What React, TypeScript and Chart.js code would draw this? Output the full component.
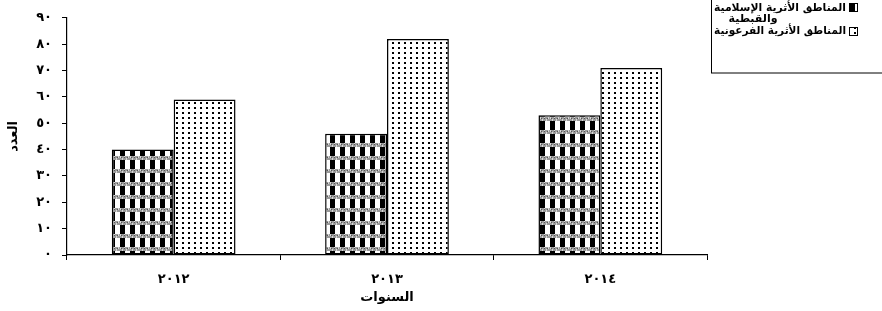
import React, { useEffect, useRef } from "react";
import { Chart, registerables } from "chart.js";

Chart.register(...registerables);

const categories = ["٢٠١٢", "٢٠١٣", "٢٠١٤"];
const islamicCoptic = [40, 46, 53];
const pharaonic = [59, 82, 71];
const yTickLabels = ["٠", "١٠", "٢٠", "٣٠", "٤٠", "٥٠", "٦٠", "٧٠", "٨٠", "٩٠"];
const seriesNames = ["المناطق الأثرية الإسلامية والقبطية", "المناطق الأثرية الفرعونية"];
const legendLines = ["المناطق الأثرية الإسلامية", "والقبطية", "المناطق الأثرية الفرعونية"];
const xTitle = "السنوات";
const yTitle = "العدد";

const FONT = "'DejaVu Sans', 'Liberation Sans', sans-serif";

function makeCheckerPattern(ctx: CanvasRenderingContext2D) {
  const c = document.createElement("canvas");
  c.width = 10;
  c.height = 13;
  const g = c.getContext("2d")!;
  g.fillStyle = "#fff";
  g.fillRect(0, 0, 10, 13);
  g.fillStyle = "#000";
  g.fillRect(0, 0, 4, 13);
  g.fillRect(4, 4, 1, 9);
  // gray wavy band
  g.fillStyle = "#9a9a9a";
  g.fillRect(0, 0, 10, 4);
  g.fillStyle = "#d8d8d8";
  for (let x = 0; x < 10; x += 2) {
    g.fillRect(x, (x / 2) % 2 === 0 ? 0 : 2, 1, 2);
  }
  g.fillStyle = "#555";
  for (let x = 1; x < 10; x += 3) {
    g.fillRect(x, 1, 1, 1);
  }
  return ctx.createPattern(c, "repeat")!;
}

function makeDotPattern(ctx: CanvasRenderingContext2D) {
  const c = document.createElement("canvas");
  c.width = 6;
  c.height = 10;
  const g = c.getContext("2d")!;
  g.fillStyle = "#fff";
  g.fillRect(0, 0, 6, 10);
  g.fillStyle = "#000";
  g.fillRect(2, 2, 2, 2);
  g.fillRect(2, 7, 2, 2);
  return ctx.createPattern(c, "repeat")!;
}

export default function App() {
  const ref = useRef<HTMLCanvasElement>(null);

  useEffect(() => {
    document.body.style.margin = "0";
    const canvas = ref.current!;
    const ctx = canvas.getContext("2d")!;
    const checker = makeCheckerPattern(ctx);
    const dots = makeDotPattern(ctx);

    const legendPlugin = {
      id: "boxLegend",
      afterDraw(chart: any) {
        const c = chart.ctx as CanvasRenderingContext2D;
        c.save();
        c.strokeStyle = "#000";
        c.lineWidth = 1;
        c.strokeRect(711.5, -2, 200, 75);
        c.font = `bold 11px ${FONT}`;
        c.fillStyle = "#000";
        c.textBaseline = "middle";
        c.direction = "rtl";
        c.textAlign = "right";
        c.fillText(legendLines[0], 846, 8, 132);
        c.textAlign = "center";
        c.fillText(legendLines[1], 753, 19);
        c.textAlign = "right";
        c.fillText(legendLines[2], 846, 31, 132);
        // symbols
        c.fillStyle = checker;
        c.fillRect(849, 3, 8, 8);
        c.strokeRect(849.5, 3.5, 8, 8);
        c.fillStyle = dots;
        c.fillRect(849, 27, 8, 8);
        c.strokeRect(849.5, 27.5, 8, 8);
        c.restore();
      },
    };

    const chart = new Chart(canvas, {
      type: "bar",
      data: {
        labels: categories,
        datasets: [
          {
            label: seriesNames[0],
            data: islamicCoptic,
            backgroundColor: checker,
            borderColor: "#000",
            borderWidth: 1.5,
            borderSkipped: false,
            categoryPercentage: 0.58,
            barPercentage: 1,
          },
          {
            label: seriesNames[1],
            data: pharaonic,
            backgroundColor: dots,
            borderColor: "#000",
            borderWidth: 1.5,
            borderSkipped: false,
            categoryPercentage: 0.58,
            barPercentage: 1,
          },
        ],
      },
      options: {
        responsive: false,
        animation: false,
        layout: { padding: { left: 0, right: 175, top: 16, bottom: 0 } },
        plugins: { legend: { display: false }, tooltip: { enabled: false } },
        scales: {
          x: {
            offset: true,
            grid: {
              offset: true,
              drawOnChartArea: false,
              drawTicks: true,
              tickLength: 5,
              color: "#000",
            },
            border: { color: "#000", width: 1.2 },
            ticks: {
              color: "#000",
              padding: 12,
              font: { family: FONT, size: 13, weight: "bold" },
            },
            title: {
              display: true,
              text: xTitle,
              color: "#000",
              padding: { top: 0, bottom: 6 },
              font: { family: FONT, size: 13, weight: "bold" },
            },
            afterFit(scale: any) {
              scale.height = 56;
            },
          },
          y: {
            min: 0,
            max: 90,
            grid: {
              drawOnChartArea: false,
              drawTicks: true,
              tickLength: 5,
              color: "#000",
            },
            border: { color: "#000", width: 1.2 },
            ticks: {
              stepSize: 10,
              color: "#000",
              padding: 10,
              font: { family: FONT, size: 13, weight: "bold" },
              callback: (_v: any, i: number) => yTickLabels[i],
            },
            title: {
              display: true,
              text: yTitle,
              color: "#000",
              padding: { top: 6, bottom: 0 },
              font: { family: FONT, size: 13, weight: "bold" },
            },
            afterFit(scale: any) {
              scale.width = 67;
            },
          },
        },
      },
      plugins: [legendPlugin],
    });
    return () => chart.destroy();
  }, []);

  return <canvas ref={ref} width={882} height={311} style={{ display: "block" }} />;
}
